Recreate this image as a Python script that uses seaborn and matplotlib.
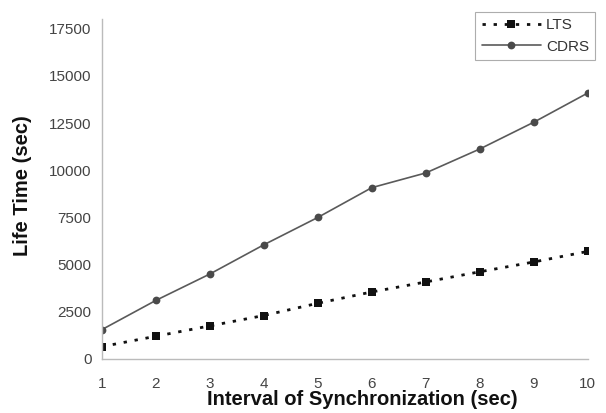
import matplotlib
matplotlib.use("Agg")
import matplotlib.pyplot as plt
import seaborn as sns
import pandas as pd

intervals = [1, 2, 3, 4, 5, 6, 7, 8, 9, 10]
lts_life = [650, 1200, 1750, 2300, 2950, 3550, 4080, 4620, 5140, 5700]
cdrs_life = [1550, 3100, 4500, 6050, 7500, 9080, 9860, 11130, 12550, 14100]
series_names = ["LTS", "CDRS"]
y_ticks = [0, 2500, 5000, 7500, 10000, 12500, 15000, 17500]

df = pd.DataFrame({
    "Interval": intervals * 2,
    "Life": lts_life + cdrs_life,
    "Series": [series_names[0]] * len(intervals) + [series_names[1]] * len(intervals),
})

sns.set_theme(style="white")
plt.rcParams['font.family'] = ['Liberation Sans', 'DejaVu Sans']

fig = plt.figure(figsize=(6.06, 4.13), dpi=100)
ax = fig.add_axes([0.168, 0.131, 0.802, 0.822])

sns.lineplot(
    data=df, x="Interval", y="Life", hue="Series", style="Series",
    hue_order=series_names, style_order=series_names,
    palette={"LTS": "#111111", "CDRS": "#5a5a5a"},
    markers={"LTS": "s", "CDRS": "o"},
    dashes={"LTS": (1.2, 2.8), "CDRS": ""},
    markersize=6, markeredgewidth=0,
    ax=ax, legend=False,
)
handles = []
for line in ax.lines:
    if line.get_marker() == "s":
        line.set_linewidth(2.0)
        line.set_markersize(6.2)
        line.set_label("LTS")
    else:
        line.set_linewidth(1.2)
        line.set_markersize(5.6)
        line.set_markerfacecolor("#4a4a4a")
        line.set_label("CDRS")
    handles.append(line)

ax.set_xlim(1, 10)
ax.set_ylim(0, 18000)
ax.set_xticks(intervals)
ax.set_yticks(y_ticks)
ax.tick_params(axis="both", colors="#444444", labelsize=11, width=0.8)
ax.tick_params(axis="x", direction="inout", length=4, pad=10.8, color="#bbbbbb")
ax.tick_params(axis="y", direction="out", length=4, color="#bbbbbb")
for s in ["top", "right"]:
    ax.spines[s].set_visible(False)
for s in ["left", "bottom"]:
    ax.spines[s].set_color("#bbbbbb")
    ax.spines[s].set_linewidth(1.0)

ax.set_xlabel("Interval of Synchronization (sec)", fontsize=14.5, fontweight="bold",
              color="#111111")
ax.set_ylabel("Life Time (sec)", fontsize=14.5, fontweight="bold", color="#111111")
ax.xaxis.set_label_coords(0.535, -0.093)
ax.yaxis.set_label_coords(-0.144, 0.51)

leg = ax.legend(handles=handles, labels=[h.get_label() for h in handles],
                loc="upper right", bbox_to_anchor=(595 / 606, 1 - 12 / 413),
                bbox_transform=fig.transFigure, fontsize=11, numpoints=1,
                frameon=True, fancybox=False, handlelength=3.9,
                borderpad=0.4, labelspacing=0.5, handletextpad=0.3,
                borderaxespad=0)
leg.get_frame().set_edgecolor("#999999")
leg.get_frame().set_linewidth(0.8)
for t in leg.get_texts():
    t.set_color("#333333")

fig.savefig("out.png", dpi=100)
